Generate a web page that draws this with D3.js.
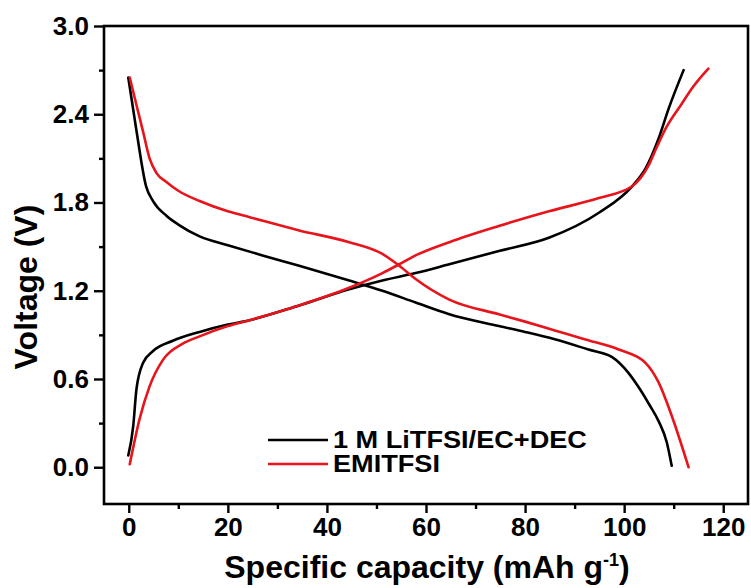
<!DOCTYPE html>
<html>
<head>
<meta charset="utf-8">
<script src="https://cdn.jsdelivr.net/npm/d3@7/dist/d3.min.js"></script>
<style>
    body { margin: 0; background: #fff; }
    text { font-family: "Liberation Sans", Arial, sans-serif; font-weight: bold; }
</style>
</head>
<body>
<div id="chart"></div>
<script>
// Data: capacity (mAh/g) and voltage (V)
let seriesNames = ["1 M LiTFSI/EC+DEC", "EMITFSI"];
let seriesColors = ["#000000", "#e8141c"];

// 1 M LiTFSI/EC+DEC, discharge branch
let liDisCap = [-0.1, 1.5, 3.5, 4.9, 7.6, 10, 14.3, 20, 27, 34.4, 44.5, 51.2, 57.9, 64.7, 74.7, 80, 86, 92.8, 97.5, 100.9, 103, 105, 107, 108.6, 109.6];
let liDisVolt = [2.65, 2.30, 1.91, 1.81, 1.71, 1.65, 1.57, 1.51, 1.44, 1.37, 1.27, 1.20, 1.12, 1.04, 0.96, 0.92, 0.87, 0.80, 0.75, 0.64, 0.54, 0.43, 0.31, 0.17, 0.01];
// 1 M LiTFSI/EC+DEC, charge branch
let liChCap = [-0.1, 0.9, 1.55, 2.9, 4.9, 8.9, 14.3, 20, 24.4, 34.4, 44.5, 51.2, 57.9, 64.7, 74.7, 84.8, 94.9, 101.6, 104.3, 106.9, 109, 112];
let liChVolt = [0.08, 0.28, 0.53, 0.71, 0.79, 0.86, 0.92, 0.97, 1.00, 1.10, 1.21, 1.27, 1.32, 1.38, 1.47, 1.56, 1.73, 1.91, 2.03, 2.23, 2.44, 2.70];

// EMITFSI, discharge branch
let emDisCap = [0.2, 1.5, 2.9, 4.2, 5.6, 7.6, 10, 14.3, 20, 24.4, 34.4, 44.5, 51.2, 54.6, 57.9, 64.7, 74.7, 80, 86, 92, 98.9, 104.3, 106.9, 109.6, 113];
let emDisVolt = [2.65, 2.47, 2.28, 2.10, 2.00, 1.94, 1.88, 1.81, 1.74, 1.70, 1.61, 1.53, 1.45, 1.37, 1.28, 1.14, 1.04, 0.99, 0.93, 0.87, 0.80, 0.71, 0.58, 0.35, 0.00];
// EMITFSI, charge branch
let emChCap = [0.2, 2.2, 4.2, 6.9, 10.9, 14.3, 20, 24.4, 34.4, 44.5, 51.2, 54.6, 57.9, 64.7, 74.7, 84.8, 94.9, 101.6, 104.9, 106.5, 108.5, 111.6, 114, 117];
let emChVolt = [0.02, 0.33, 0.55, 0.73, 0.84, 0.89, 0.96, 1.00, 1.10, 1.22, 1.32, 1.38, 1.44, 1.53, 1.64, 1.74, 1.83, 1.91, 2.05, 2.17, 2.31, 2.47, 2.59, 2.71];

let xTicks = [0, 20, 40, 60, 80, 100, 120];
let xMinorTicks = [10, 30, 50, 70, 90, 110];
let yTicks = [0.0, 0.6, 1.2, 1.8, 2.4, 3.0];
let yMinorTicks = [0.3, 0.9, 1.5, 2.1, 2.7];

function init() {
    let width = 751;
    let height = 588;
    let plot = {"left": 104, "right": 748, "top": 26, "bottom": 504};

    let svg = d3.select("#chart").append("svg")
            .attr("width", width)
            .attr("height", height);

    let x = d3.scaleLinear()
            .domain([-5, 125])
            .range([plot.left, plot.right]);
    let y = d3.scaleLinear()
            .domain([-0.25, 3.0])
            .range([plot.bottom, plot.top]);

    // zip the arrays into point lists, one per curve
    function zip(caps, volts) {
        return caps.map((c, i) => ({"c": c, "v": volts[i]}));
    }
    let curves = [
        {"series": 0, "points": zip(liDisCap, liDisVolt)},
        {"series": 0, "points": zip(liChCap, liChVolt)},
        {"series": 1, "points": zip(emDisCap, emDisVolt)},
        {"series": 1, "points": zip(emChCap, emChVolt)}
    ];

    let line = d3.line()
            .x(d => x(d.c))
            .y(d => y(d.v))
            .curve(d3.curveMonotoneX);

    svg.selectAll(".curve")
        .data(curves)
        .join("path")
        .attr("class", "curve")
        .attr("d", d => line(d.points))
        .attr("fill", "none")
        .attr("stroke", d => seriesColors[d.series])
        .attr("stroke-width", 2.6)
        .attr("stroke-linejoin", "round")
        .attr("stroke-linecap", "round");

    // x axis, major + minor ticks pointing out
    svg.append("g")
        .attr("transform", "translate(0," + plot.bottom + ")")
        .call(d3.axisBottom(x).tickValues(xTicks).tickSize(9).tickPadding(5).tickFormat(d3.format("d")));
    svg.append("g")
        .attr("transform", "translate(0," + plot.bottom + ")")
        .call(d3.axisBottom(x).tickValues(xMinorTicks).tickSize(5).tickFormat(""));

    // y axis
    svg.append("g")
        .attr("transform", "translate(" + plot.left + ",0)")
        .call(d3.axisLeft(y).tickValues(yTicks).tickSize(10).tickPadding(5).tickFormat(d3.format(".1f")));
    svg.append("g")
        .attr("transform", "translate(" + plot.left + ",0)")
        .call(d3.axisLeft(y).tickValues(yMinorTicks).tickSize(5).tickFormat(""));

    svg.selectAll(".domain").remove();
    svg.selectAll(".tick line")
        .attr("stroke", "#000")
        .attr("stroke-width", 2.4);
    svg.selectAll(".tick text")
        .attr("fill", "#000")
        .style("font-size", "26px");

    // frame
    svg.append("rect")
        .attr("x", plot.left)
        .attr("y", plot.top)
        .attr("width", plot.right - plot.left)
        .attr("height", plot.bottom - plot.top)
        .attr("fill", "none")
        .attr("stroke", "#000")
        .attr("stroke-width", 2.6);

    // axis titles
    let xTitle = svg.append("text")
        .attr("x", (plot.left + plot.right) / 2 + 1)
        .attr("y", 578)
        .attr("text-anchor", "middle")
        .style("font-size", "32px");
    xTitle.append("tspan").text("Specific capacity (mAh g");
    xTitle.append("tspan").text("-1").attr("dy", -12).style("font-size", "18px");
    xTitle.append("tspan").text(")").attr("dy", 12);

    svg.append("text")
        .attr("transform", "translate(37," + ((plot.top + plot.bottom) / 2 + 22) + ") rotate(-90)")
        .attr("text-anchor", "middle")
        .style("font-size", "32px")
        .text("Voltage (V)");

    // legend (text a bit wide, as in the picture)
    let legend = svg.selectAll(".legend")
        .data(seriesNames)
        .join("g")
        .attr("class", "legend")
        .attr("transform", (d, i) => "translate(268," + (440 + i * 24) + ")");
    legend.append("line")
        .attr("x1", 0)
        .attr("x2", 60)
        .attr("stroke", (d, i) => seriesColors[i])
        .attr("stroke-width", 2.6);
    legend.append("text")
        .attr("transform", "translate(65,8) scale(1.18,1)")
        .style("font-size", "23px")
        .text(d => d);
}
window.onload = init;
</script>
</body>
</html>
